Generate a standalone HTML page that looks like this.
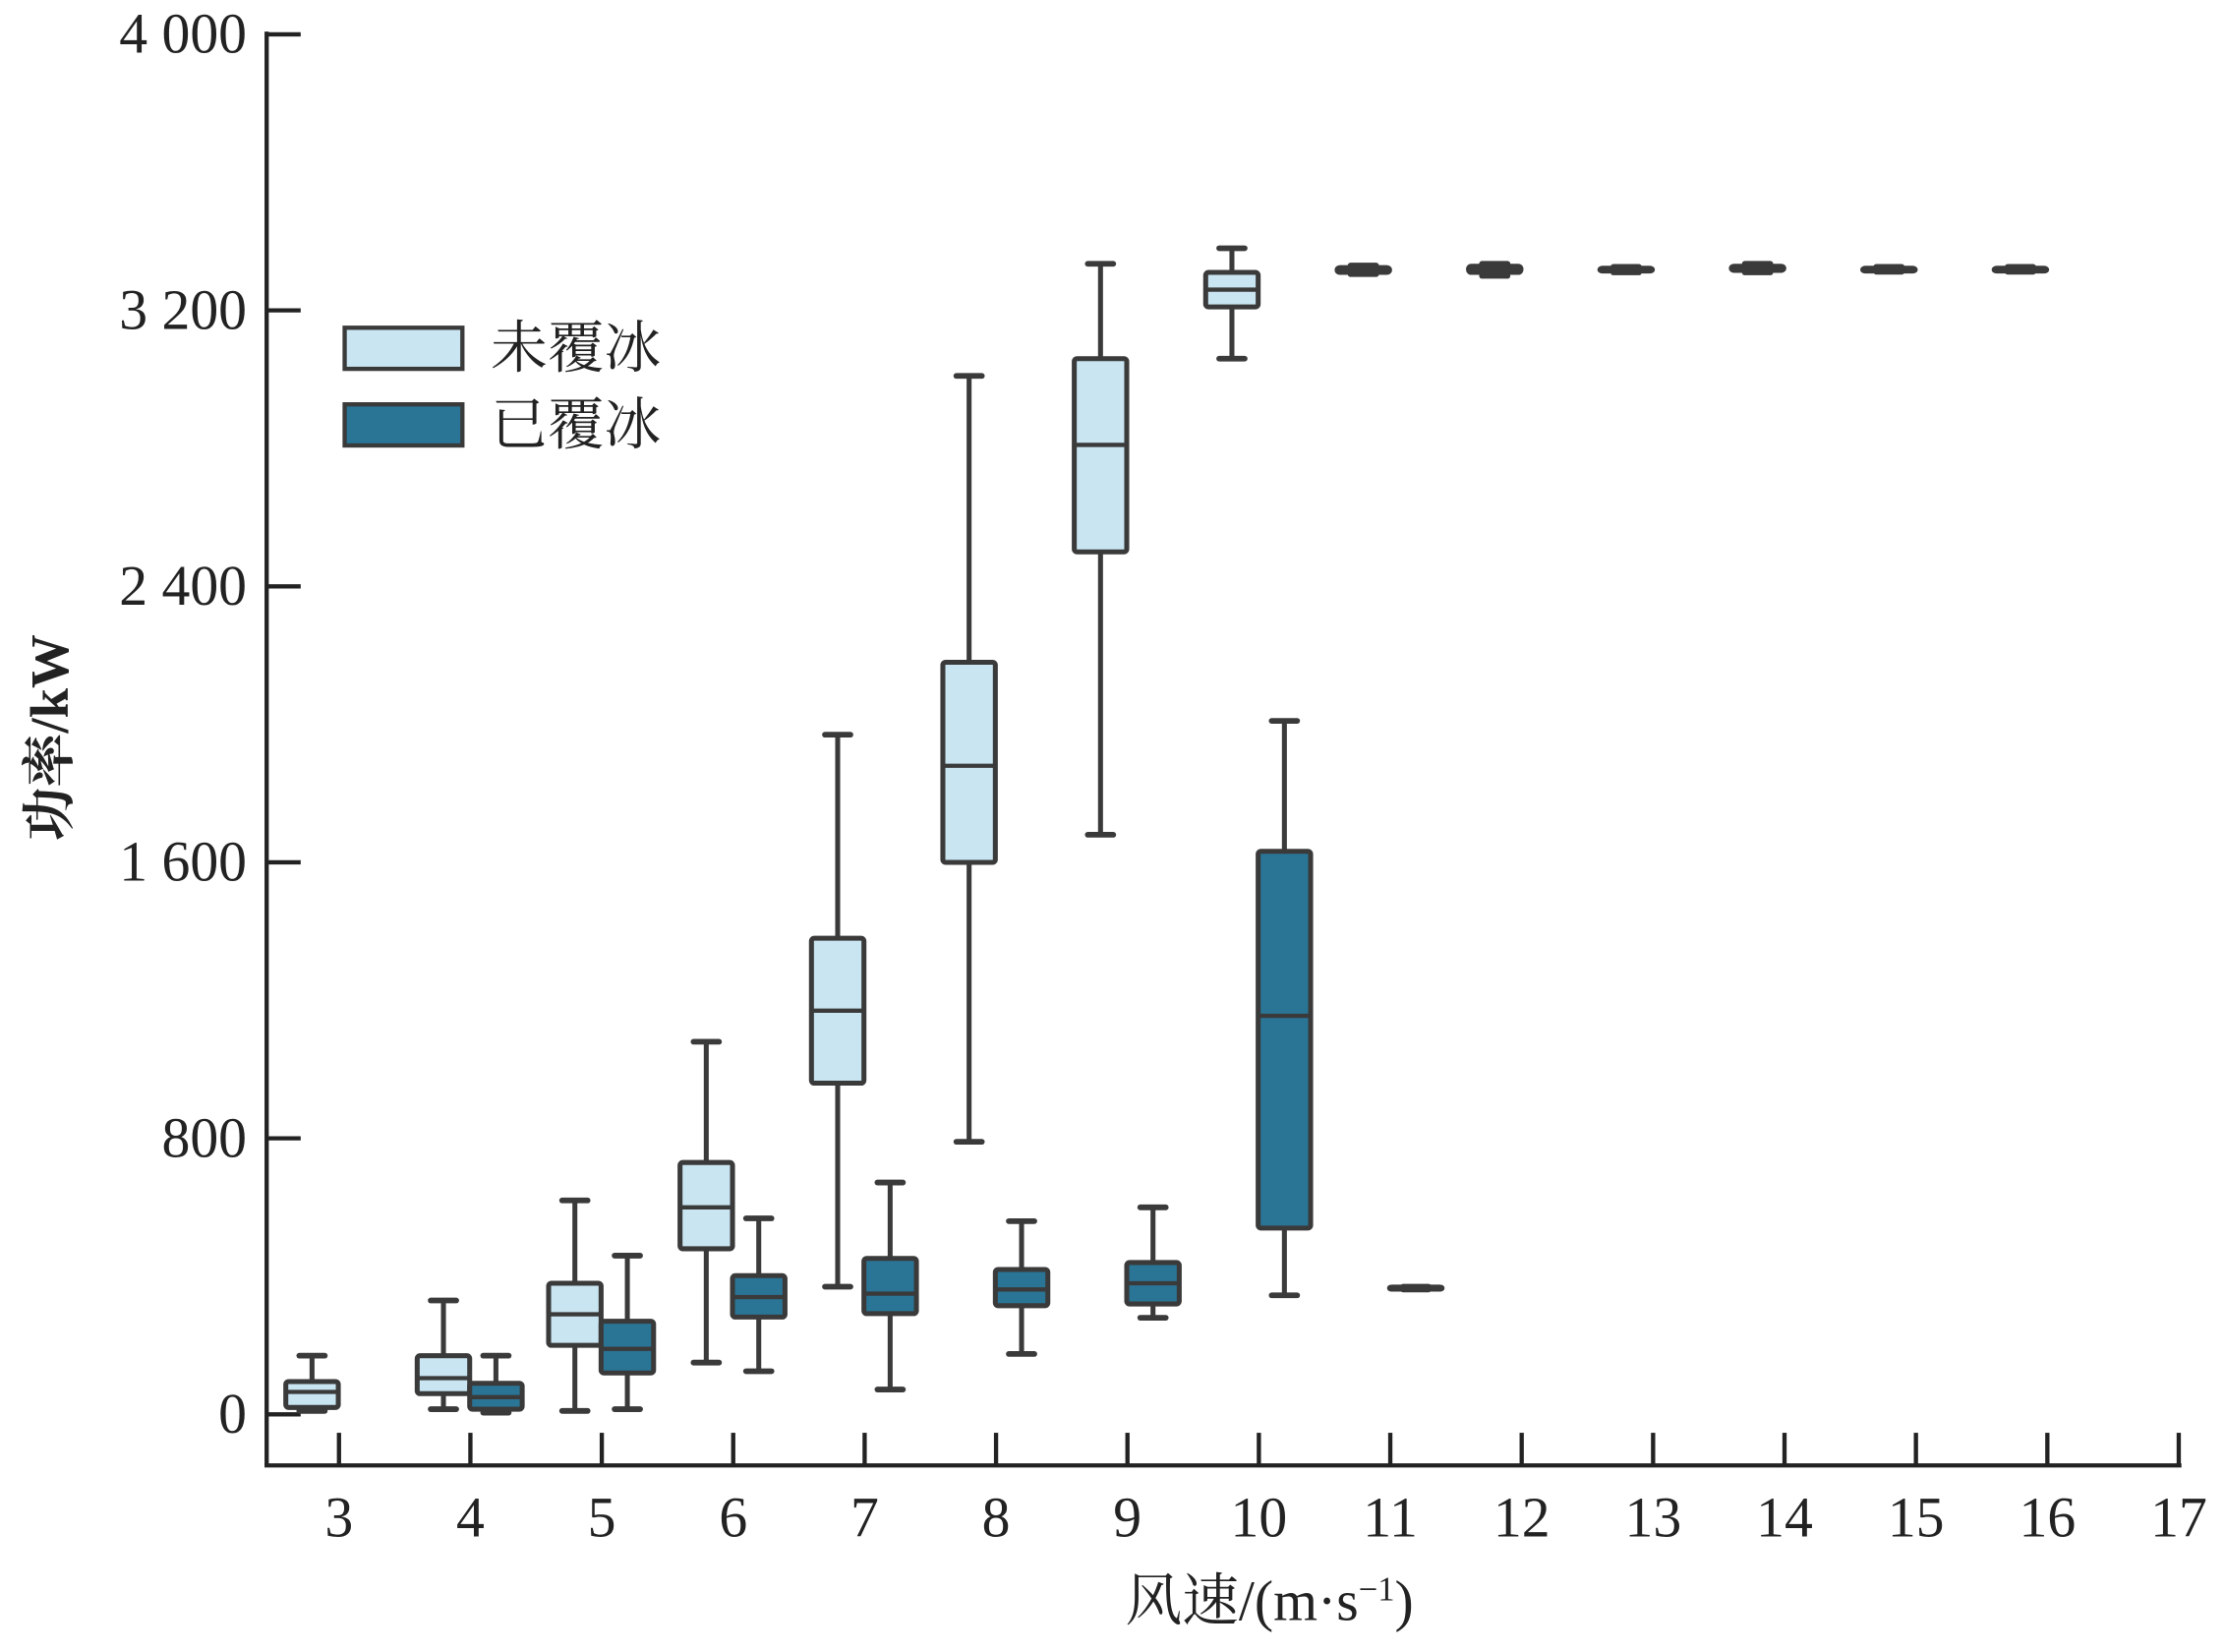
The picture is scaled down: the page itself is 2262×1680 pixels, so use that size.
<!DOCTYPE html>
<html><head><meta charset="utf-8"><style>html,body{margin:0;padding:0;background:#fff}svg{display:block}</style></head>
<body>
<svg id="chart" width="2262" height="1680" viewBox="0 0 1568 1164.5" xmlns="http://www.w3.org/2000/svg" font-family="'Liberation Serif','Noto Serif CJK SC',serif">
<g id="axes"></g><g id="marks"></g>
<g>
<rect x="243" y="231" width="83" height="29" fill="#c9e5f2" stroke="#3a3a3a" stroke-width="3"/>
<text x="346" y="259" font-size="40" fill="#222">未覆冰</text>
<rect x="243" y="285" width="83" height="29" fill="#2a7596" stroke="#3a3a3a" stroke-width="3"/>
<text x="346" y="313" font-size="40" fill="#222">已覆冰</text>
</g>
<text transform="translate(48,520) rotate(-90)" text-anchor="middle" font-size="38" font-weight="bold" fill="#222">功率/kW</text>
<text x="895" y="1142" text-anchor="middle" font-size="40" fill="#222">风速/(m·s<tspan font-size="24" dy="-14">−1</tspan><tspan dy="14">)</tspan></text>
</svg>
<script>
const xTicks=[3,4,5,6,7,8,9,10,11,12,13,14,15,16,17];
const yTicks=[0,800,1600,2400,3200,4000];
const yTickLabels=["0","800","1 600","2 400","3 200","4 000"];
const uncWind=[3,4,5,6,7,8,9,10,11,12,13,14,15,16];
const uncLo=[10,15,10,150,370,790,1680,3060,3305,3300,3310,3310,3312,3312];
const uncQ1=[20,60,200,480,960,1600,2500,3210,3310,3310,3314,3316,3314,3314];
const uncMed=[65,105,290,600,1170,1880,2810,3260,3317,3320,3318,3322,3318,3318];
const uncQ3=[95,170,380,730,1380,2180,3060,3310,3324,3328,3322,3328,3322,3322];
const uncHi=[170,330,620,1080,1970,3010,3335,3380,3330,3335,3326,3335,3326,3326];
const icedWind=[4,5,6,7,8,9,10,11];
const icedLo=[5,15,125,72,175,280,345,362];
const icedQ1=[15,120,282,292,315,320,540,363];
const icedMed=[50,190,340,350,362,380,1155,366];
const icedQ3=[90,270,402,452,420,440,1632,369];
const icedHi=[170,460,568,672,560,600,2010,370];

const X0=239,DX=92.65,Y0=997,KY=0.2432;
const xs=v=>X0+(v-3)*DX, ys=v=>Y0-v*KY;
const NS="http://www.w3.org/2000/svg";
function mk(tag,attrs,parent,txt){const e=document.createElementNS(NS,tag);for(const k in attrs)e.setAttribute(k,attrs[k]);if(txt!==undefined)e.textContent=txt;parent.appendChild(e);return e;}
const ax=document.getElementById('axes'),mg=document.getElementById('marks');
let e;
e=mk('line',{x1:188,y1:ys(4000)-2,x2:188,y2:1033,stroke:'#222','stroke-width':3},ax);


e=mk('line',{x1:186.5,y1:1033,x2:1538,y2:1033,stroke:'#222','stroke-width':3},ax);


yTicks.forEach((t,i)=>{
 e=mk('line',{x1:188,y1:ys(t),x2:212,y2:ys(t),stroke:'#222','stroke-width':3},ax);
 
 
 e=mk('text',{x:174,y:ys(t)+13,'text-anchor':'end','font-size':40,fill:'#222'},ax,yTickLabels[i]);
 
 
});
xTicks.forEach(t=>{
 e=mk('line',{x1:xs(t),y1:1010,x2:xs(t),y2:1033,stroke:'#222','stroke-width':3},ax);
 
 
 e=mk('text',{x:xs(t),y:1083,'text-anchor':'middle','font-size':40,fill:'#222'},ax,String(t));
 
 
});
function box(w,lo,q1,md,q3,hi,off,fill,name){
 const g=mk('g',{},mg);
 
 
 const cx=xs(w)+off,hw=18.5,cw=9;
 mk('line',{x1:cx,y1:ys(hi),x2:cx,y2:ys(lo),stroke:'#3a3a3a','stroke-width':3.5},g);
 mk('line',{x1:cx-cw,y1:ys(hi),x2:cx+cw,y2:ys(hi),stroke:'#3a3a3a','stroke-width':4,'stroke-linecap':'round'},g);
 mk('line',{x1:cx-cw,y1:ys(lo),x2:cx+cw,y2:ys(lo),stroke:'#3a3a3a','stroke-width':4,'stroke-linecap':'round'},g);
 const h=Math.max(ys(q1)-ys(q3),1.5);
 mk('rect',{x:cx-hw,y:ys(q3),width:2*hw,height:h,fill:fill,stroke:'#3a3a3a','stroke-width':3.5,rx:2},g);
 mk('line',{x1:cx-hw,y1:ys(md),x2:cx+hw,y2:ys(md),stroke:'#3a3a3a','stroke-width':3},g);
}
uncWind.forEach((w,i)=>box(w,uncLo[i],uncQ1[i],uncMed[i],uncQ3[i],uncHi[i],-19,'#c9e5f2','box-uniced'));
icedWind.forEach((w,i)=>box(w,icedLo[i],icedQ1[i],icedMed[i],icedQ3[i],icedHi[i],18,'#2a7596','box-iced'));
</script>
</body></html>
